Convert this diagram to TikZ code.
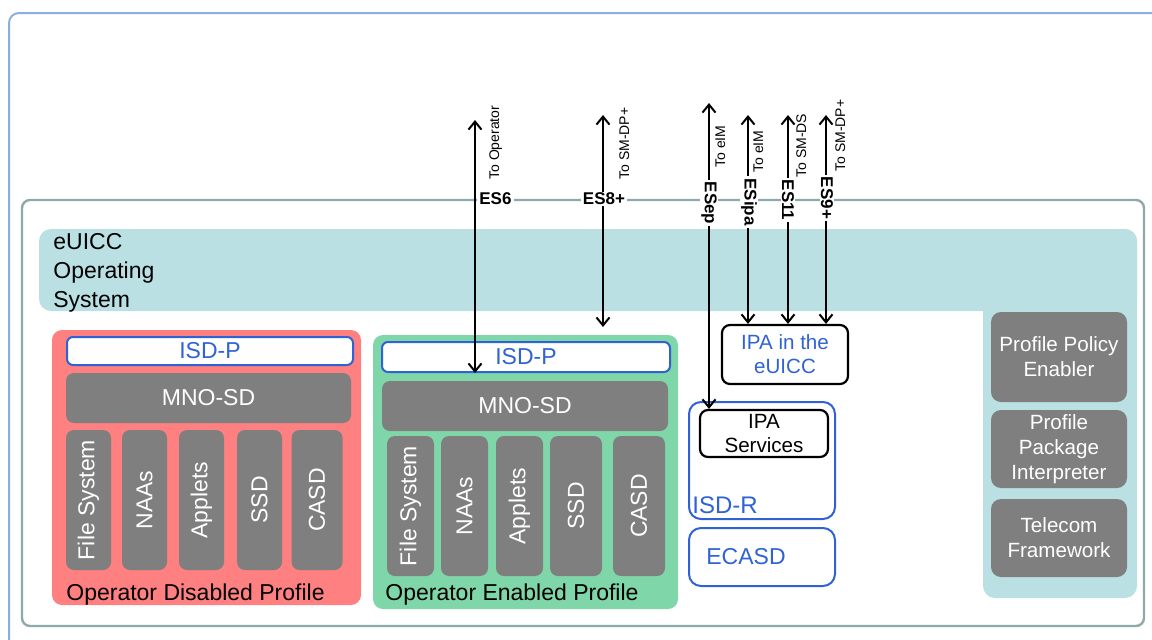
\documentclass[tikz,border=0pt]{standalone}
\usepackage{fontspec}
\setmainfont{Liberation Sans}
\usetikzlibrary{arrows.meta}

\definecolor{frameblue}{HTML}{8DAEE3}
\definecolor{cardgray}{HTML}{8FA9AA}
\definecolor{osteal}{HTML}{BAE0E3}
\definecolor{offred}{HTML}{FF8080}
\definecolor{ongreen}{HTML}{7FD6A8}
\definecolor{boxgray}{HTML}{7F7F7F}
\definecolor{sdblue}{HTML}{2F62D4}

\newcommand{\fsz}[2]{\fontsize{#1}{#2}\selectfont}

\begin{document}
\begin{tikzpicture}[x=0.5pt, y=-0.5pt,
  wh/.style 2 args={minimum width=#1*0.5pt, minimum height=#2*0.5pt, inner sep=0pt},
  profile/.style={fill=#1, rounded corners=5pt},
  isdp/.style={draw=sdblue, line width=1pt, fill=white, rounded corners=3pt, text=sdblue, font=\fsz{11.5}{13}},
  appbox/.style={fill=boxgray, rounded corners=4pt, text=white, font=\fsz{11.5}{13}},
  sidebox/.style={fill=boxgray, rounded corners=5pt, text=white, align=center, font=\fsz{10.3}{12.5}},
  ipabox/.style={draw=black, line width=1.1pt, rounded corners=4pt, align=center, font=\fsz{10.3}{12}},
  sdframe/.style={draw=sdblue, line width=1pt, rounded corners=6pt},
  link/.style={{Straight Barb[length=4pt,width=6.5pt]}-{Straight Barb[length=4pt,width=6.5pt]}, line width=1pt},
  iface/.style={fill=white, inner xsep=1pt, inner ysep=0.5pt, font=\bfseries\fsz{8.5}{10}},
  dest/.style={rotate=90, anchor=north west, inner sep=0pt, font=\fsz{7}{8}}]

\useasboundingbox (0,0) rectangle (1152,639);
\clip (0,0) rectangle (1152,639);

% frames
\draw[frameblue, line width=1pt, rounded corners=5pt] (9,13) rectangle (1170,660);
\draw[cardgray, line width=1.2pt, rounded corners=4pt] (22,200) rectangle (1144,626);

% operating system
\fill[osteal, rounded corners=6pt] (39,229) rectangle (1137,311);
\fill[osteal, rounded corners=6pt] (983,229) rectangle (1137,598);
\node[anchor=north west, inner sep=0pt, align=left, font=\fsz{11.5}{14.5}] (oslabel) at (53,233) {eUICC\\Operating\\System};

% disabled profile
\node[profile=offred, wh={309}{275}] (offprof) at (206.5,467.5) {};
\node[isdp, wh={286}{28}] (isdpoff) at (210,351) {ISD-P};
\node[appbox, wh={285}{50}] (mnooff) at (208.5,398) {MNO-SD};
\foreach \x/\w/\t [count=\i] in {88.5/45/File System, 144.5/45/NAAs, 201.5/45/Applets, 259.5/45/SSD, 317/51/CASD}
  \node[appbox, rotate=90, wh={140}{\w}] (offapp\i) at (\x,500) {\t};
\node[anchor=west, inner sep=0pt, font=\fsz{11.5}{13}] (offlabel) at (66,595) {Operator Disabled Profile};

% enabled profile
\node[profile=ongreen, wh={305}{274}] (onprof) at (525.5,472) {};
\node[isdp, wh={288}{30}] (isdpon) at (526,357) {ISD-P};
\node[appbox, wh={286}{50}] (mnoon) at (525,406) {MNO-SD};
\foreach \x/\w/\t [count=\i] in {410.5/47/File System, 464.5/47/NAAs, 519.5/47/Applets, 576/52/SSD, 639/52/CASD}
  \node[appbox, rotate=90, wh={140}{\w}] (onapp\i) at (\x,506) {\t};
\node[anchor=west, inner sep=0pt, font=\fsz{11.5}{13}] (onlabel) at (385,595) {Operator Enabled Profile};

% IPA, ISD-R and ECASD
\node[ipabox, wh={126}{59}, text=sdblue] (ipaeuicc) at (785,354.5) {IPA in the\\eUICC};
\node[sdframe, wh={146}{117}] (isdr) at (762,460.5) {};
\node[ipabox, wh={128}{47}] (ipasvc) at (764,433.5) {IPA\\Services};
\node[anchor=west, inner sep=0pt, text=sdblue, font=\fsz{12}{14}] (isdrlabel) at (692,505) {ISD-R};
\node[sdframe, wh={146}{58}] (ecasd) at (762,557) {};
\node[anchor=west, inner sep=0pt, text=sdblue, font=\fsz{11.5}{13}] (ecasdlabel) at (706,557) {ECASD};

% platform services
\node[sidebox, wh={136}{90}] (ppe) at (1059,357) {Profile Policy\\Enabler};
\node[sidebox, wh={136}{78}] (ppi) at (1059,449) {Profile\\Package\\Interpreter};
\node[sidebox, wh={136}{78}] (tfw) at (1059,538) {Telecom\\Framework};

% interfaces
\coordinate (top6) at (475,120);
\coordinate (top8) at (603,115);
\coordinate (bot8) at (603,327);
\coordinate (topep) at (709,103);
\coordinate (topipa) at (748,115);
\coordinate (top11) at (788,115);
\coordinate (top9) at (826,115);

\draw[link] (top6) -- (top6 |- isdpon.south);
\draw[link] (top8) -- (bot8);
\draw[link] (topep) -- (topep |- ipasvc.north);
\draw[link] (topipa) -- (topipa |- ipaeuicc.north);
\draw[link] (top11) -- (top11 |- ipaeuicc.north);
\draw[link] (top9) -- (top9 |- ipaeuicc.north);

\node[iface, anchor=west] (es6) at (477,199) {ES6};
\node[iface] (es8) at (604,199) {ES8+};
\node[iface, rotate=-90] (esep) at (709,203) {ESep};
\node[iface, rotate=-90] (esipa) at (749,202) {ESipa};
\node[iface, rotate=-90] (es11) at (788,200) {ES11};
\node[iface, rotate=-90] (es9) at (827,198) {ES9+};

\node[dest] (to6) at (489,180) {To Operator};
\node[dest] (to8) at (619,180) {To SM-DP+};
\node[dest] (toep) at (715,168) {To eIM};
\node[dest] (toipa) at (753,173) {To eIM};
\node[dest] (to11) at (796,178) {To SM-DS};
\node[dest] (to9) at (835,172) {To SM-DP+};
\end{tikzpicture}
\end{document}
